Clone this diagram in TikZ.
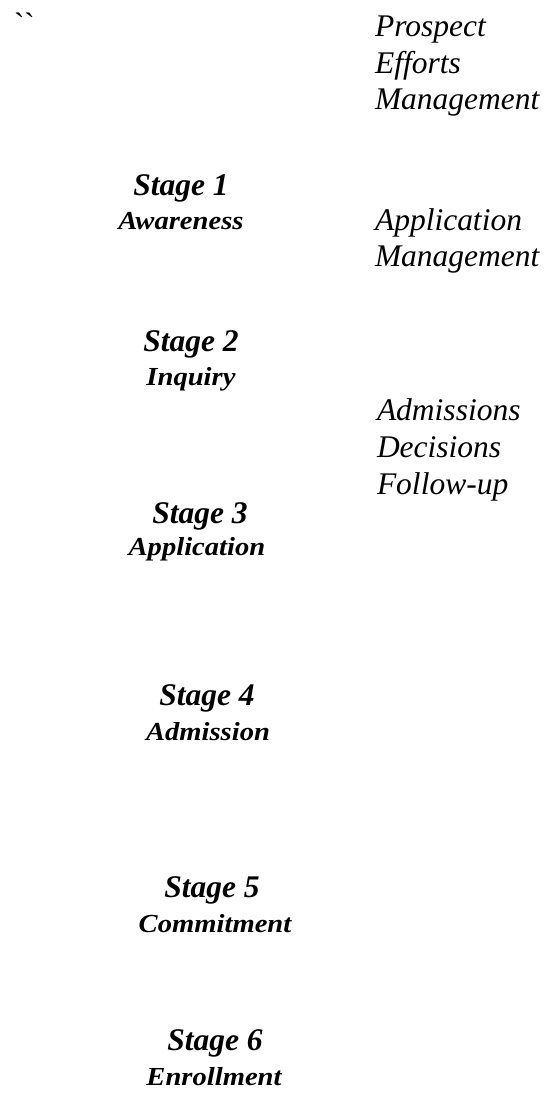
\documentclass[tikz,border=0pt]{standalone}
\usepackage{fontspec}
\usepackage{graphicx}
\setmainfont{Liberation Serif}
\newfontfamily\rawserif{Liberation Serif}[Ligatures=TeXOff]
\begin{document}
\begin{tikzpicture}[x=1pt,y=-1pt,
  every node/.style={inner sep=0pt,outer sep=0pt},
  side/.style={anchor=base west,font=\fontsize{31.5}{36}\selectfont\itshape},
  stagehead/.style={anchor=base,font=\fontsize{31.5}{36}\selectfont\bfseries\itshape},
  stagename/.style={anchor=base,font=\fontsize{26}{30}\selectfont\bfseries\itshape}]
\useasboundingbox[fill=white] (0,0) rectangle (547,1093);

% stray marks in the corner
\node[anchor=base west,font=\fontsize{31}{36}\selectfont\rawserif] (ticks) at (14,34) {\symbol{96}\symbol{96}};

% management column
\node[side] (pe1) at (375,36) {Prospect};
\node[side] (pe2) at (375,73) {Efforts};
\node[side] (pe3) at (375,109) {Management};
\node[side] (am1) at (375,230) {Application};
\node[side] (am2) at (375,266) {Management};
\node[side] (ad1) at (377,420) {Admissions};
\node[side] (ad2) at (377,457) {Decisions};
\node[side] (ad3) at (377,494) {Follow-up};

% funnel stages
\newcommand{\stagelabel}[1]{\scalebox{1.1}[1]{#1}}
\node[stagehead] (s1) at (181,195) {Stage 1};
\node[stagename] (n1) at (181,229) {\stagelabel{Awareness}};
\node[stagehead] (s2) at (191,351) {Stage 2};
\node[stagename] (n2) at (191,385) {\stagelabel{Inquiry}};
\node[stagehead] (s3) at (200,523) {Stage 3};
\node[stagename] (n3) at (197,555) {\stagelabel{Application}};
\node[stagehead] (s4) at (207,705) {Stage 4};
\node[stagename] (n4) at (208,740) {\stagelabel{Admission}};
\node[stagehead] (s5) at (212,897) {Stage 5};
\node[stagename] (n5) at (215,932) {\stagelabel{Commitment}};
\node[stagehead] (s6) at (215,1050) {Stage 6};
\node[stagename] (n6) at (214,1085) {\stagelabel{Enrollment}};
\end{tikzpicture}
\end{document}
